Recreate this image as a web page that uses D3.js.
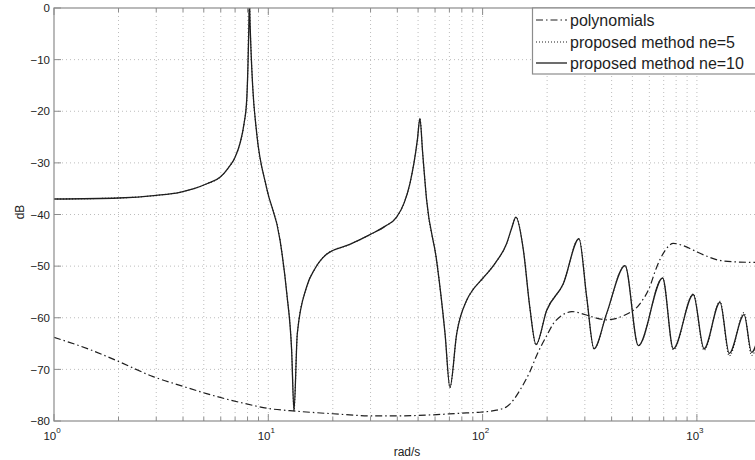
<!DOCTYPE html>
<html>
<head>
<meta charset="utf-8">
<script src="https://cdn.jsdelivr.net/npm/d3@7/dist/d3.min.js"></script>
<style>
  html, body { margin: 0; padding: 0; background: #ffffff; }
  svg { display: block; font-family: "Liberation Sans", Arial, sans-serif; }
</style>
</head>
<body>
<svg id="chart" width="755" height="460"></svg>
<script>
// ---------- data ----------
const seriesNames = ["polynomials", "proposed method ne=5", "proposed method ne=10"];

// frequency (rad/s) and magnitude (dB) of the polynomial fit
const polyFreq = [1, 1.5, 1.96, 2.9, 4.01, 5.15, 7.38, 10.5, 12.6, 20, 30, 40, 59, 78.5, 97, 116, 130, 140, 152, 166, 180, 199, 215, 230, 245, 261, 285, 317, 379, 454, 542, 600, 649, 710, 776, 860, 962, 1100, 1282, 1550, 2000];
const polyDb   = [-63.8, -66.3, -68.3, -71.4, -73.3, -74.7, -76.4, -77.7, -78.0, -78.6, -79.0, -79.0, -78.8, -78.5, -78.3, -77.9, -77.2, -75.8, -73.5, -70.5, -67.0, -63.5, -61.0, -59.8, -59.1, -58.8, -59.1, -59.7, -60.4, -59.6, -57.3, -54.2, -50.2, -47.0, -45.6, -46.0, -46.9, -48.0, -48.9, -49.2, -49.3];

// proposed method, ne = 10
const ne10Freq = [1, 2, 3, 3.87, 4.5, 5.2, 5.95, 6.5, 7.0, 7.38, 7.7, 7.93, 8.05, 8.12, 8.16, 8.22, 8.3, 8.45, 8.83, 9.8, 11.35, 12.2, 12.85, 13.18, 13.66, 15.1, 16.5, 18.7, 24, 29.8, 35, 39.7, 43, 45.8, 49.6, 51, 52.5, 54.8, 61, 66.8, 70.4, 75.7, 84.3, 90, 97, 104.5, 115, 129.5, 137, 143, 155, 166, 177.5, 199, 238, 281.7, 306, 331, 379, 462, 533, 692, 776, 962, 1080, 1282, 1416, 1660, 1800, 2000];
const ne10Db   = [-37.0, -36.8, -36.3, -35.7, -35.0, -34.0, -32.8, -31.0, -28.9, -26.2, -22.5, -17.8, -10.0, -3.0, 2.0, -3.0, -8.0, -15.0, -24.3, -34.7, -45.0, -55.3, -66.3, -78.0, -63.0, -54.0, -50.5, -47.7, -45.8, -43.9, -42.3, -40.5, -37.8, -34.0, -25.6, -21.4, -28.0, -37.2, -48.9, -63.1, -73.5, -63.1, -56.6, -54.6, -53.0, -51.5, -49.3, -45.6, -42.5, -40.5, -46.9, -57.9, -65.2, -58.6, -53.4, -44.7, -56.0, -66.0, -59.2, -49.9, -65.4, -52.3, -66.0, -55.5, -66.0, -57.0, -66.9, -59.4, -66.7, -61.0];

// proposed method, ne = 5 (coincides with ne = 10 except at the top end)
const ne5Freq = ne10Freq;
const ne5Db   = [-37.0, -36.8, -36.3, -35.7, -35.0, -34.0, -32.8, -31.0, -28.9, -26.2, -22.5, -17.8, -10.0, -3.0, 2.0, -3.0, -8.0, -15.0, -24.3, -34.7, -45.0, -55.3, -66.3, -78.0, -63.0, -54.0, -50.5, -47.7, -45.8, -43.9, -42.3, -40.5, -37.8, -34.0, -25.6, -21.4, -28.0, -37.2, -48.9, -63.1, -73.5, -63.1, -56.6, -54.6, -53.0, -51.5, -49.3, -45.6, -42.5, -40.5, -46.9, -57.9, -65.2, -58.6, -53.4, -44.7, -56.0, -66.0, -59.2, -49.9, -65.4, -52.3, -66.2, -55.4, -66.3, -56.8, -67.4, -59.0, -67.3, -61.5];

const yTicks = [0, -10, -20, -30, -40, -50, -60, -70, -80];
const xDecades = [1, 10, 100, 1000];
const xLabel = "rad/s";
const yLabel = "dB";

// ---------- layout ----------
const svg = d3.select("#chart");
const L = 54, T = 8, B = 421;
const decadePx = 214.3;
const xMax = 2000;
const R = L + Math.log10(xMax) * decadePx;

const x = d3.scaleLog().domain([1, xMax]).range([L, R]);
const y = d3.scaleLinear().domain([-80, 0]).range([B, T]);

svg.append("rect").attr("width", 755).attr("height", 460).attr("fill", "#ffffff");

svg.append("defs").append("clipPath").attr("id", "plotclip")
  .append("rect").attr("x", L).attr("y", T).attr("width", R - L).attr("height", B - T);

// minor/major x values
const xAll = [];
for (const d of xDecades) for (let k = 1; k <= 9; k++) { const v = d * k; if (v <= xMax) xAll.push(v); }

// grid
const grid = svg.append("g");
grid.selectAll("line.gx").data(xAll.filter(v => v > 1)).enter().append("line")
  .attr("x1", d => x(d)).attr("x2", d => x(d)).attr("y1", T).attr("y2", B)
  .attr("stroke", "#bdbdbd").attr("stroke-width", 1).attr("stroke-dasharray", "1,3");
grid.selectAll("line.gy").data(yTicks.filter(v => v > -80 && v < 0)).enter().append("line")
  .attr("x1", L).attr("x2", R).attr("y1", d => y(d)).attr("y2", d => y(d))
  .attr("stroke", "#bdbdbd").attr("stroke-width", 1).attr("stroke-dasharray", "1,3");

// axes (MATLAB style: inward ticks)
const axisColor = "#8c8c8c";
const gxb = svg.append("g").attr("transform", `translate(0,${B})`)
  .call(d3.axisBottom(x).tickValues(xAll).tickSize(0).tickFormat(""));
gxb.select(".domain").remove();
const gyl = svg.append("g").attr("transform", `translate(${L},0)`)
  .call(d3.axisLeft(y).tickValues(yTicks).tickSize(0).tickFormat(""));
gyl.select(".domain").remove();

const ticks = svg.append("g").attr("stroke", axisColor).attr("stroke-width", 1);
xAll.forEach(v => {
  const len = xDecades.includes(v) ? 7 : 4;
  ticks.append("line").attr("x1", x(v)).attr("x2", x(v)).attr("y1", B).attr("y2", B - len);
  ticks.append("line").attr("x1", x(v)).attr("x2", x(v)).attr("y1", T).attr("y2", T + len);
});
yTicks.forEach(v => {
  ticks.append("line").attr("x1", L).attr("x2", L + 7).attr("y1", y(v)).attr("y2", y(v));
});

// y tick labels
svg.append("g").selectAll("text").data(yTicks).enter().append("text")
  .attr("x", L - 4).attr("y", d => y(d)).attr("dy", "0.36em")
  .attr("text-anchor", "end").attr("font-size", 11.5).attr("fill", "#222")
  .text(d => d === 0 ? "0" : "\u2212" + Math.abs(d));

// x tick labels 10^n
const xl = svg.append("g").selectAll("text").data(xDecades).enter().append("text")
  .attr("x", d => x(d) - 2).attr("y", 440)
  .attr("text-anchor", "middle").attr("font-size", 11.5).attr("fill", "#222");
xl.append("tspan").text("10");
xl.append("tspan").attr("dy", -7).attr("font-size", 8).text(d => Math.round(Math.log10(d)));

// axis labels
svg.append("text").attr("x", 407).attr("y", 456).attr("text-anchor", "middle")
  .attr("font-size", 12).attr("fill", "#222").text(xLabel);
svg.append("text").attr("transform", "translate(24,212) rotate(-90)")
  .attr("text-anchor", "middle").attr("font-size", 12).attr("fill", "#222").text(yLabel);

// curves
const line = d3.line().x(d => x(d[0])).y(d => y(d[1])).curve(d3.curveMonotoneX);
const plot = svg.append("g").attr("clip-path", "url(#plotclip)");
const zip = (a, b) => a.map((v, i) => [v, b[i]]);

const styles = [
  { data: zip(polyFreq, polyDb), dash: "7,3,1.5,3", w: 1.2 },
  { data: zip(ne5Freq, ne5Db), dash: "1,2", w: 1.1 },
  { data: zip(ne10Freq, ne10Db), dash: null, w: 1.3 }
];
styles.forEach(s => {
  plot.append("path").datum(s.data).attr("d", line)
    .attr("fill", "none").attr("stroke", "#1e1e1e").attr("stroke-width", s.w)
    .attr("stroke-dasharray", s.dash).attr("stroke-linejoin", "round");
});

// box
svg.append("rect").attr("x", L).attr("y", T).attr("width", R - L).attr("height", B - T)
  .attr("fill", "none").attr("stroke", axisColor).attr("stroke-width", 1.2);

// legend
const lg = svg.append("g");
lg.append("rect").attr("x", 532.5).attr("y", T).attr("width", 240).attr("height", 66)
  .attr("fill", "#ffffff").attr("stroke", axisColor).attr("stroke-width", 1.2);
const rows = [20, 42, 63];
seriesNames.forEach((name, i) => {
  lg.append("line").attr("x1", 536).attr("x2", 567).attr("y1", rows[i]).attr("y2", rows[i])
    .attr("stroke", "#1e1e1e").attr("stroke-width", styles[i].w).attr("stroke-dasharray", styles[i].dash);
  lg.append("text").attr("x", 570).attr("y", rows[i] + 5.5).attr("font-size", 16)
    .attr("fill", "#1e1e1e").text(name);
});
</script>
</body>
</html>
